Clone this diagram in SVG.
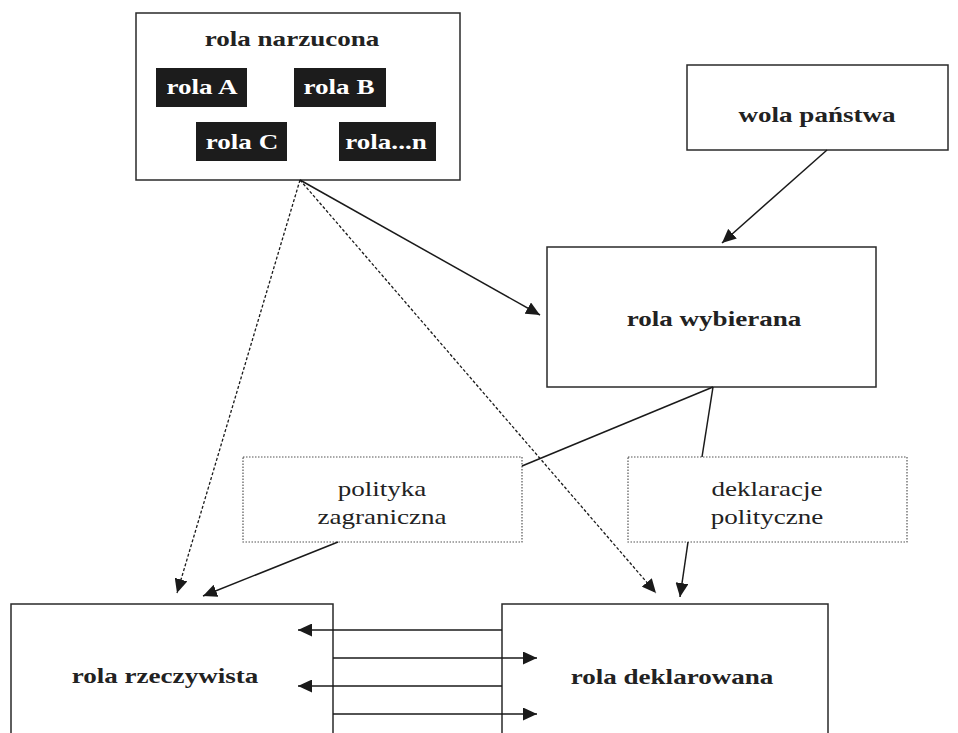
<svg xmlns="http://www.w3.org/2000/svg" width="958" height="733" viewBox="0 0 958 733">
<style>
.box{fill:#fff;stroke:#2a2a2a;stroke-width:1.5}
.dbox{fill:#fff;stroke:#555;stroke-width:1.2;stroke-dasharray:1.5,1.5}
.blk{fill:#1c1c1c;stroke:none}
.b{font-family:"Liberation Serif","Times New Roman",serif;font-weight:bold;font-size:22px;fill:#222;text-anchor:middle}
.w{font-family:"Liberation Serif","Times New Roman",serif;font-weight:bold;font-size:22px;fill:#fff;text-anchor:middle}
.r{font-family:"Liberation Serif","Times New Roman",serif;font-size:22px;fill:#222;text-anchor:middle}
.ln{fill:none;stroke:#1a1a1a;stroke-width:1.5}
.ds{fill:none;stroke:#1a1a1a;stroke-width:1.3;stroke-dasharray:3,2}
</style>
<defs>
<marker id="ah" markerUnits="userSpaceOnUse" markerWidth="15" markerHeight="13" refX="14" refY="6.5" orient="auto">
<path d="M0,0 L14,6.5 L0,13 z" fill="#1a1a1a"/>
</marker>
</defs>
<g id="rola-narzucona">
<rect class="box" x="136" y="13" width="324" height="167"/>
<text class="b" transform="translate(292,46) scale(1.23,1)">rola narzucona</text>
<rect class="blk" x="156" y="68" width="91" height="39"/>
<text class="w" transform="translate(202,94) scale(1.23,1)">rola A</text>
<rect class="blk" x="294" y="68" width="92" height="39"/>
<text class="w" transform="translate(339,94) scale(1.23,1)">rola B</text>
<rect class="blk" x="196" y="122" width="91" height="39"/>
<text class="w" transform="translate(242,149) scale(1.23,1)">rola C</text>
<rect class="blk" x="339" y="122" width="97" height="39"/>
<text class="w" transform="translate(386,149) scale(1.23,1)">rola...n</text>
</g>
<g id="wola-panstwa">
<rect class="box" x="687" y="65" width="261" height="85"/>
<text class="b" transform="translate(817,122) scale(1.23,1)">wola państwa</text>
</g>
<g id="rola-wybierana">
<rect class="box" x="547" y="247" width="329" height="140"/>
<text class="b" transform="translate(714,326) scale(1.23,1)">rola wybierana</text>
</g>
<g id="polityka-zagraniczna">
<rect class="dbox" x="243" y="457" width="279" height="85"/>
<text class="r" transform="translate(382,496) scale(1.23,1)">polityka</text>
<text class="r" transform="translate(382,524) scale(1.23,1)">zagraniczna</text>
</g>
<g id="deklaracje-polityczne">
<rect class="dbox" x="628" y="457" width="279" height="85"/>
<text class="r" transform="translate(767,496) scale(1.23,1)">deklaracje</text>
<text class="r" transform="translate(767,524) scale(1.23,1)">polityczne</text>
</g>
<g id="rola-rzeczywista">
<path class="box" d="M11,740 L11,604 L333,604 L333,740"/>
<text class="b" transform="translate(165,683) scale(1.23,1)">rola rzeczywista</text>
</g>
<g id="rola-deklarowana">
<path class="box" d="M502,740 L502,604 L828,604 L828,740"/>
<text class="b" transform="translate(672,684) scale(1.23,1)">rola deklarowana</text>
</g>
<g id="connectors">
<path class="ln" d="M300,180 L540,315" marker-end="url(#ah)"/>
<path class="ds" d="M300,180 L177,593" marker-end="url(#ah)"/>
<path class="ds" d="M300,180 L656,593" marker-end="url(#ah)"/>
<path class="ln" d="M827,150 L722,243" marker-end="url(#ah)"/>
<path class="ln" d="M713,387 L522,466"/>
<path class="ln" d="M713,387 L702,457"/>
<path class="ln" d="M688,542 L680,597" marker-end="url(#ah)"/>
<path class="ln" d="M338,542 L203,596" marker-end="url(#ah)"/>
<path class="ln" d="M502,630 L298,630" marker-end="url(#ah)"/>
<path class="ln" d="M333,658 L537,658" marker-end="url(#ah)"/>
<path class="ln" d="M502,686 L298,686" marker-end="url(#ah)"/>
<path class="ln" d="M333,714 L537,714" marker-end="url(#ah)"/>
</g>
</svg>
